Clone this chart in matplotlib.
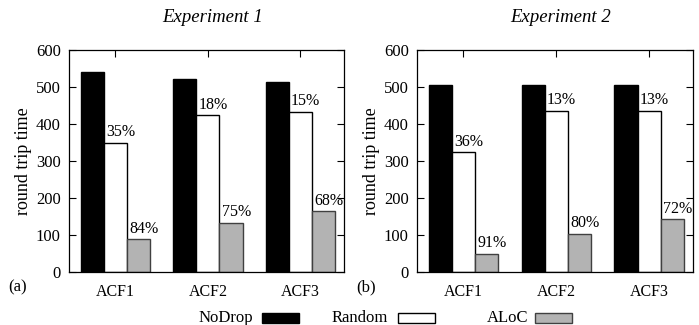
import numpy as np
import matplotlib.pyplot as plt
from matplotlib.patches import Rectangle

plt.rcParams['font.family'] = ['Liberation Serif', 'DejaVu Serif']

groups = ["ACF1", "ACF2", "ACF3"]
series = ["NoDrop", "Random", "ALoC"]
colors = ["black", "white", "#b3b3b3"]
edges = ["black", "black", "#404040"]

# experiment 1
exp1_nodrop = [541, 521, 513]
exp1_random = [348, 423, 432]
exp1_aloc = [88, 132, 164]
exp1_rand_pct = ["35%", "18%", "15%"]
exp1_aloc_pct = ["84%", "75%", "68%"]

# experiment 2
exp2_nodrop = [505, 505, 506]
exp2_random = [323, 435, 436]
exp2_aloc = [48, 102, 142]
exp2_rand_pct = ["36%", "13%", "13%"]
exp2_aloc_pct = ["91%", "80%", "72%"]

W, H = 699, 325
fig = plt.figure(figsize=(W / 100, H / 100), dpi=100)


def px_axes(x0, x1, y0, y1):
    return fig.add_axes([x0 / W, 1 - y1 / H, (x1 - x0) / W, (y1 - y0) / H])


def draw_panel(ax, vals, pcts, title, tag, xl):
    x = np.arange(len(groups))
    bw = 0.25
    for k, v in enumerate(vals):
        ax.bar(x + (k - 1) * bw, v, bw, color=colors[k], edgecolor=edges[k],
               linewidth=1.0, zorder=2)
    for k in (1, 2):
        for i in range(len(groups)):
            ax.annotate(pcts[k - 1][i], (x[i] + (k - 1) * bw - bw / 2, vals[k][i]),
                        xytext=(1.5, 2), textcoords='offset points',
                        ha='left', va='bottom', fontsize=11.5)
    ax.set_xlim(-0.5, 2.47)
    ax.set_ylim(0, 600)
    ax.set_yticks(range(0, 601, 100))
    ax.set_xticks(x)
    ax.set_xticklabels(groups)
    ax.tick_params(direction='in', length=5, width=0.8, top=True, right=True,
                   labelsize=11.5)
    ax.tick_params(axis='y', pad=6, labelsize=12)
    ax.tick_params(axis='x', pad=9)
    for s in ax.spines.values():
        s.set_linewidth(0.9)
    fig.text((xl[0] + xl[1]) / 2 / W + 6 / W, 1 - 22 / H, title, ha='center',
             va='baseline', fontsize=13.5, style='italic')
    fig.text((xl[0] - 46) / W, 1 - 161 / H, "round trip time", rotation=90,
             ha='center', va='center', fontsize=13)
    fig.text((xl[0] - 61) / W, 1 - 287 / H, tag, ha='left', va='center',
             fontsize=12)


ax1 = px_axes(69, 344, 50, 272)
draw_panel(ax1, [exp1_nodrop, exp1_random, exp1_aloc],
           [exp1_rand_pct, exp1_aloc_pct], "Experiment 1", "(a)", (69, 344))

ax2 = px_axes(417, 693, 50, 272)
draw_panel(ax2, [exp2_nodrop, exp2_random, exp2_aloc],
           [exp2_rand_pct, exp2_aloc_pct], "Experiment 2", "(b)", (417, 693))

# legend along the bottom
leg_text_right = [253, 388, 528]
leg_box_left = [262, 398, 535]
for name, tx, bx, c, e in zip(series, leg_text_right, leg_box_left, colors, edges):
    fig.text(tx / W, 1 - 318 / H, name, ha='right', va='center', fontsize=12)
    fig.patches.append(Rectangle((bx / W, 1 - 323 / H), 37 / W, 10 / H,
                                 facecolor=c, edgecolor=e, linewidth=1.0,
                                 transform=fig.transFigure, figure=fig))

fig.savefig("out.png", dpi=100)
